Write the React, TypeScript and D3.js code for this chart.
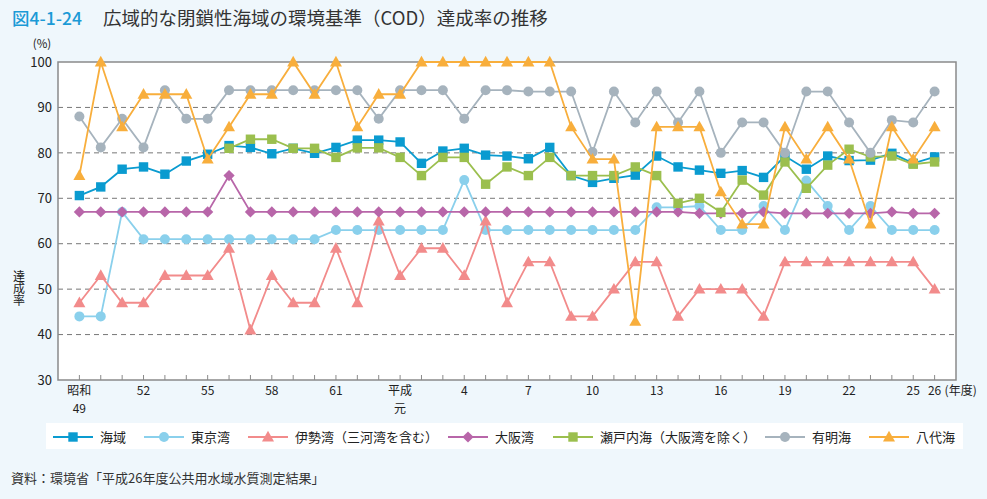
import React from "react";
import * as d3 from "d3";

// Fiscal years 昭和49 (1974) … 平成26 (2014)
const years: number[] = d3.range(1974, 2015);

const tickLabels: { idx: number; lines: string[] }[] = [
  { idx: 0, lines: ["昭和", "49"] },
  { idx: 3, lines: ["52"] },
  { idx: 6, lines: ["55"] },
  { idx: 9, lines: ["58"] },
  { idx: 12, lines: ["61"] },
  { idx: 15, lines: ["平成", "元"] },
  { idx: 18, lines: ["4"] },
  { idx: 21, lines: ["7"] },
  { idx: 24, lines: ["10"] },
  { idx: 27, lines: ["13"] },
  { idx: 30, lines: ["16"] },
  { idx: 33, lines: ["19"] },
  { idx: 36, lines: ["22"] },
  { idx: 39, lines: ["25"] },
  { idx: 40, lines: ["26"] },
];

const yTicks = [30, 40, 50, 60, 70, 80, 90, 100];

const kaiiki: (number | null)[] = [
  70.6, 72.5, 76.4, 76.9, 75.3, 78.2, 79.7, 81.6, 81.2, 79.8, 81.0, 79.9, 81.2,
  82.8, 82.8, 82.4, 77.7, 80.4, 81.0, 79.5, 79.3, 78.7, 81.2, 75.0, 73.5, 74.4,
  75.1, 79.3, 76.9, 76.2, 75.5, 76.1, 74.6, 79.3, 76.4, 79.3, 78.3, 78.4, 79.9,
  77.7, 79.1,
];
const tokyo: (number | null)[] = [
  44, 44, 67, 61, 61, 61, 61, 61, 61, 61, 61, 61, 63, 63, 63, 63, 63, 63, 74,
  63, 63, 63, 63, 63, 63, 63, 63, 68, 68, 68.3, 63, 63, 68.3, 63, 73.9, 68.3,
  63, 68.3, 63, 63, 63,
];
const ise: (number | null)[] = [
  47, 53, 47, 47, 53, 53, 53, 59, 41, 53, 47, 47, 59, 47, 65, 53, 59, 59, 53,
  65, 47, 56, 56, 44, 44, 50, 56, 56, 44, 50, 50, 50, 44, 56, 56, 56, 56, 56,
  56, 56, 50,
];
const osaka: (number | null)[] = [
  67, 67, 67, 67, 67, 67, 67, 75, 67, 67, 67, 67, 67, 67, 67, 67, 67, 67, 67,
  67, 67, 67, 67, 67, 67, 67, 67, 67, 67, 66.7, 66.7, 66.7, 67, 66.7, 66.7,
  66.7, 66.7, 66.7, 67, 66.7, 66.7,
];
const setonaikai: (number | null)[] = [
  null, null, null, null, null, null, null, 81.0, 83.0, 83.0, 81.0, 81.0, 79.0,
  81.1, 81.1, 79.0, 75.0, 79.0, 79.0, 73.1, 76.9, 75.0, 79.0, 75.0, 75.0, 75.0,
  76.9, 75.0, 68.9, 70.0, 66.9, 74.0, 70.7, 78.0, 72.2, 77.3, 80.8, 79.1, 79.3,
  77.5, 78.0,
];
const ariake: (number | null)[] = [
  88.0, 81.2, 87.5, 81.2, 93.8, 87.5, 87.5, 93.8, 93.8, 93.8, 93.8, 93.8, 93.8,
  93.8, 87.5, 93.8, 93.8, 93.8, 87.5, 93.8, 93.8, 93.5, 93.5, 93.5, 80.2, 93.5,
  86.7, 93.5, 86.7, 93.5, 80.0, 86.7, 86.7, 80.0, 93.5, 93.5, 86.7, 80.0, 87.2,
  86.7, 93.5,
];
const yatsushiro: (number | null)[] = [
  75.0, 100, 85.7, 92.9, 92.9, 92.9, 78.6, 85.7, 92.9, 92.9, 100, 92.9, 100,
  85.7, 92.9, 92.9, 100, 100, 100, 100, 100, 100, 100, 85.7, 78.6, 78.6, 42.9,
  85.7, 85.7, 85.7, 71.4, 64.3, 64.3, 85.7, 78.6, 85.7, 78.6, 64.3, 85.7, 78.6,
  85.7,
];

type Shape = "square" | "circle" | "triangle" | "diamond";
const seriesNames = [
  "海域",
  "東京湾",
  "伊勢湾（三河湾を含む）",
  "大阪湾",
  "瀬戸内海（大阪湾を除く）",
  "有明海",
  "八代海",
];
const seriesValues = [kaiiki, tokyo, ise, osaka, setonaikai, ariake, yatsushiro];
const seriesColors = [
  "#0a9bd0",
  "#8ad0ec",
  "#f28b8b",
  "#b866a9",
  "#9bbf4e",
  "#a6b3bd",
  "#f8ae3c",
];
const seriesShapes: Shape[] = [
  "square",
  "circle",
  "triangle",
  "diamond",
  "square",
  "circle",
  "triangle",
];
const legendX = [53, 144, 248, 448, 553, 765, 869];

const FONT = "'Noto Sans CJK JP', 'Noto Sans', sans-serif";

function Marker({ shape, x, y, color }: { shape: Shape; x: number; y: number; color: string }) {
  if (shape === "square")
    return <rect x={x - 4.7} y={y - 4.7} width={9.4} height={9.4} fill={color} />;
  if (shape === "circle") return <circle cx={x} cy={y} r={5} fill={color} />;
  if (shape === "diamond")
    return (
      <path
        d={`M${x},${y - 5.6}L${x + 5.6},${y}L${x},${y + 5.6}L${x - 5.6},${y}Z`}
        fill={color}
      />
    );
  return (
    <path
      d={`M${x},${y - 6.2}L${x + 6},${y + 4.4}L${x - 6},${y + 4.4}Z`}
      fill={color}
    />
  );
}

export default function App() {
  const W = 987;
  const H = 499;
  const left = 58;
  const right = 956;
  const top = 62;
  const bottom = 380;

  const x = d3
    .scalePoint<number>()
    .domain(years)
    .range([left, right])
    .padding(1);
  const y = d3.scaleLinear().domain([30, 100]).range([bottom, top]);

  const line = d3
    .line<number | null>()
    .defined((d) => d != null)
    .x((_, i) => x(years[i]) as number)
    .y((d) => y(d as number));

  return (
    <svg
      width={W}
      height={H}
      style={{ position: "absolute", left: 0, top: 0, display: "block" }}
      fontFamily={FONT}
    >
      <rect x={0} y={0} width={W} height={H} fill="#eff7fc" />
      {/* Title */}
      <text x={12} y={25} fontSize={17.5} fill="#1b9ad6" fontWeight={500}>
        図4-1-24
      </text>
      <text x={103} y={25} fontSize={18.5} fill="#333">
        広域的な閉鎖性海域の環境基準（COD）達成率の推移
      </text>

      {/* plot area */}
      <rect x={left} y={top} width={right - left} height={bottom - top} fill="#fff" />
      {yTicks
        .filter((t) => t > 30 && t < 100)
        .map((t) => (
          <line
            key={t}
            x1={left}
            x2={right}
            y1={y(t)}
            y2={y(t)}
            stroke="#777"
            strokeWidth={1}
            strokeDasharray="5,4"
          />
        ))}
      <rect
        x={left}
        y={top}
        width={right - left}
        height={bottom - top}
        fill="none"
        stroke="#8a8a8a"
        strokeWidth={1.5}
      />
      {yTicks.map((t) => (
        <text
          key={t}
          x={52}
          y={y(t)}
          dy="0.36em"
          textAnchor="end"
          fontSize={13}
          fill="#222"
        >
          {t}
        </text>
      ))}
      <text x={42} y={48} textAnchor="middle" fontSize={11.5} fill="#222">
        (%)
      </text>
      <text
        x={19}
        y={288}
        textAnchor="middle"
        fontSize={12}
        fill="#222"
        style={{ writingMode: "vertical-rl" }}
      >
        達成率
      </text>

      {/* x ticks */}
      {years.map((yr) => (
        <line
          key={yr}
          x1={x(yr)}
          x2={x(yr)}
          y1={bottom}
          y2={bottom - 5}
          stroke="#8a8a8a"
          strokeWidth={1}
        />
      ))}
      {tickLabels.map((t) => (
        <g key={t.idx}>
          {t.lines.map((l, j) => (
            <text
              key={j}
              x={x(years[t.idx])}
              y={391 + j * 18}
              dy="0.36em"
              textAnchor="middle"
              fontSize={12}
              fill="#222"
            >
              {l}
            </text>
          ))}
        </g>
      ))}
      <text x={(x(years[40]) as number) + 10} y={391} dy="0.36em" fontSize={12} fill="#222">
        (年度)
      </text>

      {/* series */}
      {seriesValues.map((vals, s) => (
        <g key={s}>
          <path d={line(vals) || ""} fill="none" stroke={seriesColors[s]} strokeWidth={1.8} />
          {vals.map((v, i) =>
            v == null ? null : (
              <Marker
                key={i}
                shape={seriesShapes[s]}
                x={x(years[i]) as number}
                y={y(v)}
                color={seriesColors[s]}
              />
            )
          )}
        </g>
      ))}

      {/* legend */}
      <rect x={46} y={423} width={917} height={26} fill="#fff" />
      {seriesNames.map((n, s) => (
        <g key={n}>
          <line
            x1={legendX[s]}
            x2={legendX[s] + 40}
            y1={437}
            y2={437}
            stroke={seriesColors[s]}
            strokeWidth={1.8}
          />
          <Marker shape={seriesShapes[s]} x={legendX[s] + 20} y={437} color={seriesColors[s]} />
          <text x={legendX[s] + 47} y={437} dy="0.36em" fontSize={13} fill="#222">
            {n}
          </text>
        </g>
      ))}

      <text x={11} y={478} dy="0.36em" fontSize={13} fill="#333">
        資料：環境省「平成26年度公共用水域水質測定結果」
      </text>
    </svg>
  );
}
